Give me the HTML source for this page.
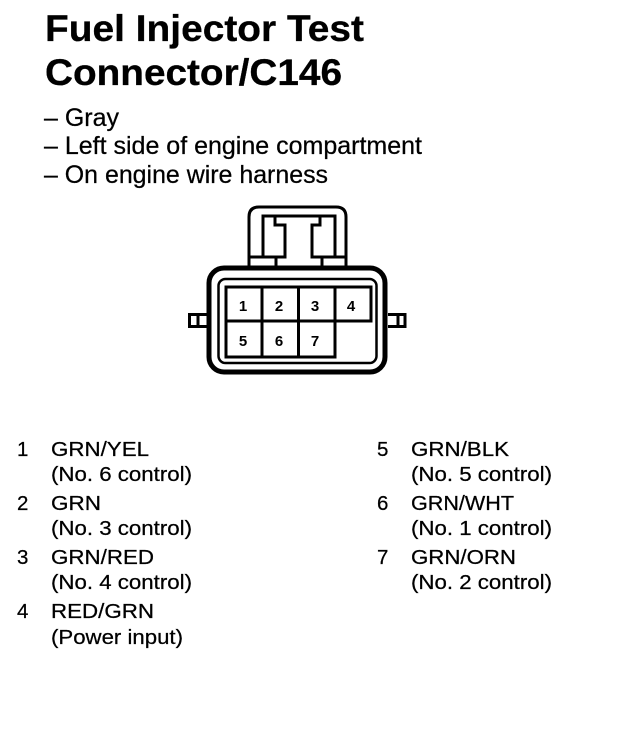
<!DOCTYPE html>
<html>
<head>
<meta charset="utf-8">
<style>
html,body{margin:0;padding:0;background:#fff}
body{width:624px;height:734px;overflow:hidden;position:relative}
svg{position:absolute;left:0;top:0}
text{font-family:"Liberation Sans",sans-serif;fill:#000}
.t{font-size:37px;font-weight:bold;stroke:#000;stroke-width:.3px}
.b{font-size:25px;stroke:#000;stroke-width:.25px}
.l{font-size:20.500px;stroke:#000;stroke-width:.25px}
.n{font-size:15px;font-weight:bold}
</style>
</head>
<body>
<svg width="624" height="734" viewBox="0 0 624 734">
<text class="t" x="45" y="41" textLength="319" lengthAdjust="spacingAndGlyphs">Fuel Injector Test</text>
<text class="t" x="45" y="85" textLength="297" lengthAdjust="spacingAndGlyphs">Connector/C146</text>
<text class="b" x="44" y="126" textLength="75" lengthAdjust="spacingAndGlyphs">– Gray</text>
<text class="b" x="44" y="154" textLength="378" lengthAdjust="spacingAndGlyphs">– Left side of engine compartment</text>
<text class="b" x="44" y="183" textLength="284" lengthAdjust="spacingAndGlyphs">– On engine wire harness</text>

<g fill="none" stroke="#000">
<path d="M249 267V217Q249 207 259 207H336Q346 207 346 217V267" stroke-width="3"/>
<path d="M263 256V216H335V256" stroke-width="3"/>
<path d="M275 216V225H285V257H249M276 257V267" stroke-width="3"/>
<path d="M320 216V225H312V257H346M322 257V267" stroke-width="3"/>
<rect x="209" y="268" width="176" height="104" rx="15" stroke-width="5"/>
<rect x="218.500" y="279" width="158" height="84" rx="7" stroke-width="2.500"/>
<path d="M226 287H371V321H335V357H226Z" stroke-width="3"/>
<path d="M226 321H335M262 287V357M298.500 287V357M335 287V321" stroke-width="3"/>
<path d="M207 314.500H189.500V326.500H207M198 314.500V326.500" stroke-width="3"/>
<path d="M388 314.500H405V326.500H388M398 314.500V326.500" stroke-width="3"/>
</g>

<text class="n" x="243" y="311" text-anchor="middle">1</text>
<text class="n" x="279" y="311" text-anchor="middle">2</text>
<text class="n" x="315" y="311" text-anchor="middle">3</text>
<text class="n" x="351" y="311" text-anchor="middle">4</text>
<text class="n" x="243" y="346" text-anchor="middle">5</text>
<text class="n" x="279" y="346" text-anchor="middle">6</text>
<text class="n" x="315" y="346" text-anchor="middle">7</text>

<text class="l" x="17" y="456">1</text>
<text class="l" x="51" y="456" textLength="98" lengthAdjust="spacingAndGlyphs">GRN/YEL</text>
<text class="l" x="51" y="481" textLength="141" lengthAdjust="spacingAndGlyphs">(No. 6 control)</text>
<text class="l" x="17" y="510">2</text>
<text class="l" x="51" y="510" textLength="50" lengthAdjust="spacingAndGlyphs">GRN</text>
<text class="l" x="51" y="535" textLength="141" lengthAdjust="spacingAndGlyphs">(No. 3 control)</text>
<text class="l" x="17" y="564">3</text>
<text class="l" x="51" y="564" textLength="103" lengthAdjust="spacingAndGlyphs">GRN/RED</text>
<text class="l" x="51" y="589" textLength="141" lengthAdjust="spacingAndGlyphs">(No. 4 control)</text>
<text class="l" x="17" y="618">4</text>
<text class="l" x="51" y="618" textLength="103" lengthAdjust="spacingAndGlyphs">RED/GRN</text>
<text class="l" x="51" y="644" textLength="132" lengthAdjust="spacingAndGlyphs">(Power input)</text>

<text class="l" x="377" y="456">5</text>
<text class="l" x="411" y="456" textLength="98" lengthAdjust="spacingAndGlyphs">GRN/BLK</text>
<text class="l" x="411" y="481" textLength="141" lengthAdjust="spacingAndGlyphs">(No. 5 control)</text>
<text class="l" x="377" y="510">6</text>
<text class="l" x="411" y="510" textLength="103" lengthAdjust="spacingAndGlyphs">GRN/WHT</text>
<text class="l" x="411" y="535" textLength="141" lengthAdjust="spacingAndGlyphs">(No. 1 control)</text>
<text class="l" x="377" y="564">7</text>
<text class="l" x="411" y="564" textLength="105" lengthAdjust="spacingAndGlyphs">GRN/ORN</text>
<text class="l" x="411" y="589" textLength="141" lengthAdjust="spacingAndGlyphs">(No. 2 control)</text>
</svg>
</body>
</html>
